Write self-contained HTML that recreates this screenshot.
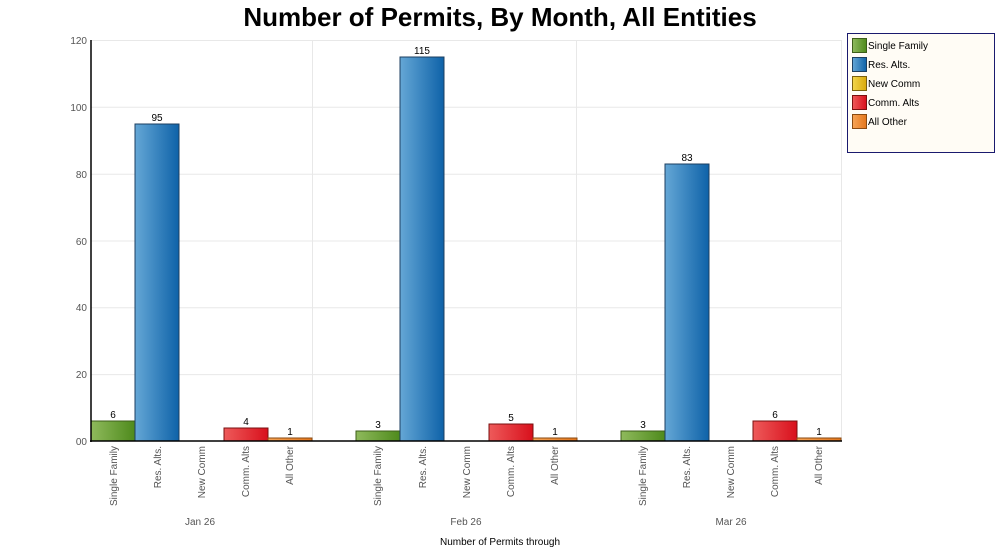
<!DOCTYPE html>
<html><head><meta charset="utf-8"><style>
body{margin:0;background:#fff;}
svg{display:block;font-family:"Liberation Sans",sans-serif;}
</style></head><body>
<svg width="1000" height="554" xmlns="http://www.w3.org/2000/svg">
<defs>
<linearGradient id="g" x1="0" x2="1"><stop offset="0" stop-color="#8fba5c"/><stop offset="1" stop-color="#4e8a1c"/></linearGradient>
<linearGradient id="b" x1="0" x2="1"><stop offset="0" stop-color="#65a7d6"/><stop offset="1" stop-color="#0e62a8"/></linearGradient>
<linearGradient id="y" x1="0" x2="1"><stop offset="0" stop-color="#f2d64c"/><stop offset="1" stop-color="#d9a90c"/></linearGradient>
<linearGradient id="r" x1="0" x2="1"><stop offset="0" stop-color="#ee5a5a"/><stop offset="1" stop-color="#d8101c"/></linearGradient>
<linearGradient id="o" x1="0" x2="1"><stop offset="0" stop-color="#f7a455"/><stop offset="1" stop-color="#e4761c"/></linearGradient>
</defs>
<text x="500" y="26" text-anchor="middle" font-size="26" font-weight="bold" fill="#000">Number of Permits, By Month, All Entities</text>
<g stroke="#e8e8e8" stroke-width="1">
<line x1="91" y1="40.5" x2="842" y2="40.5"/>
<line x1="91" y1="107.3" x2="842" y2="107.3"/>
<line x1="91" y1="174.2" x2="842" y2="174.2"/>
<line x1="91" y1="241" x2="842" y2="241"/>
<line x1="91" y1="307.8" x2="842" y2="307.8"/>
<line x1="91" y1="374.6" x2="842" y2="374.6"/>
<line x1="312.5" y1="40" x2="312.5" y2="441"/>
<line x1="576.5" y1="40" x2="576.5" y2="441"/>
<line x1="841.5" y1="40" x2="841.5" y2="441"/>
</g>
<g font-size="10" fill="#555" text-anchor="end">
<text x="87" y="44">120</text><text x="87" y="111">100</text><text x="87" y="178">80</text>
<text x="87" y="245">60</text><text x="87" y="311">40</text><text x="87" y="378">20</text><text x="87" y="445">00</text>
</g>
<g stroke-width="1">
<rect x="91" y="421" width="44" height="20" fill="url(#g)" stroke="#3d5e1a"/>
<rect x="135" y="124" width="44" height="317" fill="url(#b)" stroke="#1c3f60"/>
<rect x="224" y="428" width="44" height="13" fill="url(#r)" stroke="#7a1010"/>
<rect x="268" y="438" width="44" height="3" fill="url(#o)" stroke="#8a4a10"/>
<rect x="356" y="431" width="44" height="10" fill="url(#g)" stroke="#3d5e1a"/>
<rect x="400" y="57" width="44" height="384" fill="url(#b)" stroke="#1c3f60"/>
<rect x="489" y="424" width="44" height="17" fill="url(#r)" stroke="#7a1010"/>
<rect x="533" y="438" width="44" height="3" fill="url(#o)" stroke="#8a4a10"/>
<rect x="621" y="431" width="44" height="10" fill="url(#g)" stroke="#3d5e1a"/>
<rect x="665" y="164" width="44" height="277" fill="url(#b)" stroke="#1c3f60"/>
<rect x="753" y="421" width="44" height="20" fill="url(#r)" stroke="#7a1010"/>
<rect x="797" y="438" width="44" height="3" fill="url(#o)" stroke="#8a4a10"/>
</g>
<g font-size="10" fill="#000" text-anchor="middle">
<text x="113" y="418">6</text><text x="157" y="121">95</text><text x="246" y="425">4</text><text x="290" y="435">1</text>
<text x="378" y="428">3</text><text x="422" y="54">115</text><text x="511" y="421">5</text><text x="555" y="435">1</text>
<text x="643" y="428">3</text><text x="687" y="161">83</text><text x="775" y="418">6</text><text x="819" y="435">1</text>
</g>
<line x1="91" y1="40" x2="91" y2="442" stroke="#000" stroke-width="1.5"/>
<line x1="90" y1="441" x2="842" y2="441" stroke="#000" stroke-width="1.5"/>
<g font-size="10" fill="#555" text-anchor="end">
<text transform="translate(117,446) rotate(-90)">Single Family</text>
<text transform="translate(161,446) rotate(-90)">Res. Alts.</text>
<text transform="translate(205,446) rotate(-90)">New Comm</text>
<text transform="translate(249,446) rotate(-90)">Comm. Alts</text>
<text transform="translate(293,446) rotate(-90)">All Other</text>
<text transform="translate(381,446) rotate(-90)">Single Family</text>
<text transform="translate(426,446) rotate(-90)">Res. Alts.</text>
<text transform="translate(470,446) rotate(-90)">New Comm</text>
<text transform="translate(514,446) rotate(-90)">Comm. Alts</text>
<text transform="translate(558,446) rotate(-90)">All Other</text>
<text transform="translate(646,446) rotate(-90)">Single Family</text>
<text transform="translate(690,446) rotate(-90)">Res. Alts.</text>
<text transform="translate(734,446) rotate(-90)">New Comm</text>
<text transform="translate(778,446) rotate(-90)">Comm. Alts</text>
<text transform="translate(822,446) rotate(-90)">All Other</text>
</g>
<g font-size="10" fill="#555" text-anchor="middle">
<text x="200" y="525">Jan 26</text><text x="466" y="525">Feb 26</text><text x="731" y="525">Mar 26</text>
</g>
<text x="500" y="545" font-size="10" fill="#000" text-anchor="middle">Number of Permits  through</text>
<rect x="847.5" y="33.5" width="147" height="119" fill="#fffcf5" stroke="#1a1a6e"/>
<g font-size="10" fill="#000">
<rect x="852.5" y="38.5" width="14" height="14" fill="url(#g)" stroke="#3d5e1a"/><text x="868" y="49">Single Family</text>
<rect x="852.5" y="57.5" width="14" height="14" fill="url(#b)" stroke="#1c3f60"/><text x="868" y="68">Res. Alts.</text>
<rect x="852.5" y="76.5" width="14" height="14" fill="url(#y)" stroke="#7a6010"/><text x="868" y="87">New Comm</text>
<rect x="852.5" y="95.5" width="14" height="14" fill="url(#r)" stroke="#7a1010"/><text x="868" y="106">Comm. Alts</text>
<rect x="852.5" y="114.5" width="14" height="14" fill="url(#o)" stroke="#8a4a10"/><text x="868" y="125">All Other</text>
</g>
</svg>
</body></html>
